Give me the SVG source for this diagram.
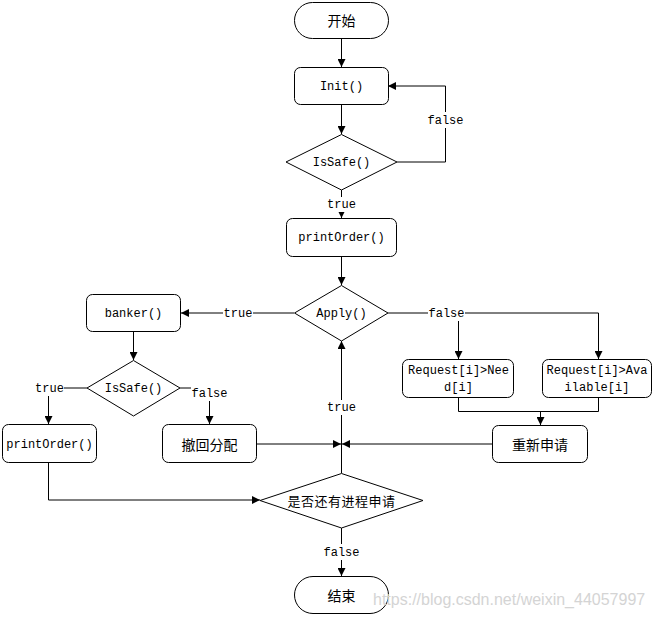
<svg xmlns="http://www.w3.org/2000/svg" width="655" height="617" viewBox="0 0 655 617">
<style>
.box{fill:#fff;stroke:#000;stroke-width:1}
.cn{font-family:"Noto Sans CJK SC","Liberation Sans",sans-serif;font-size:14px;fill:#000;text-anchor:middle;dominant-baseline:central}
.en{font-family:"Liberation Mono",monospace;font-size:12px;fill:#000;text-anchor:middle;dominant-baseline:central}
.conn{fill:none;stroke:#000;stroke-width:1}
.lblbg{fill:#fff;stroke:none}
.wm{font-family:"Liberation Sans",Arial,sans-serif;font-size:16px;fill:#d4d4d4}
</style>
<defs>
<marker id="arr" markerUnits="userSpaceOnUse" markerWidth="9" markerHeight="8" refX="8" refY="4" orient="auto">
<path d="M0,0 L8,4 L0,8 z" fill="#000"/>
</marker>
</defs>
<rect width="655" height="617" fill="#fff"/>
<g id="connectors">
<path class="conn" d="M341.5,38 V67" marker-end="url(#arr)"/>
<path class="conn" d="M341.5,104 V134" marker-end="url(#arr)"/>
<path class="conn" d="M397,162 H445.5 V86 H388" marker-end="url(#arr)"/>
<path class="conn" d="M341.5,190 V218" marker-end="url(#arr)"/>
<path class="conn" d="M341.5,257 V285" marker-end="url(#arr)"/>
<path class="conn" d="M294,313 H181" marker-end="url(#arr)"/>
<path class="conn" d="M133.5,332 V360" marker-end="url(#arr)"/>
<path class="conn" d="M87,388 H48.5 V424" marker-end="url(#arr)"/>
<path class="conn" d="M180,388 H209.5 V424" marker-end="url(#arr)"/>
<path class="conn" d="M256,444 H341" marker-end="url(#arr)"/>
<path class="conn" d="M492,444 H342" marker-end="url(#arr)"/>
<path class="conn" d="M341.5,473 V341" marker-end="url(#arr)"/>
<path class="conn" d="M388,313 H598.5 V359" marker-end="url(#arr)"/>
<path class="conn" d="M458.5,313 V359" marker-end="url(#arr)"/>
<path class="conn" d="M458.5,397 V411.5 H598.5 V397"/>
<path class="conn" d="M540.5,411 V425" marker-end="url(#arr)"/>
<path class="conn" d="M48.5,463 V500 H260" marker-end="url(#arr)"/>
<path class="conn" d="M341.5,528 V576" marker-end="url(#arr)"/>
<rect class="lblbg" x="427" y="112" width="36" height="16"/>
<text class="en" x="445.5" y="120.5">false</text>
<rect class="lblbg" x="327" y="197" width="29" height="15"/>
<text class="en" x="341.5" y="204.5">true</text>
<rect class="lblbg" x="223" y="306" width="30" height="15"/>
<text class="en" x="238" y="313.5">true</text>
<rect class="lblbg" x="35" y="381" width="29" height="15"/>
<text class="en" x="49.5" y="388.5">true</text>
<rect class="lblbg" x="191" y="385" width="37" height="16"/>
<text class="en" x="209.5" y="393.5">false</text>
<rect class="lblbg" x="327" y="400" width="29" height="15"/>
<text class="en" x="341.5" y="408">true</text>
<rect class="lblbg" x="428" y="305" width="37" height="16"/>
<text class="en" x="446.5" y="313.5">false</text>
<rect class="lblbg" x="323" y="544" width="37" height="16"/>
<text class="en" x="341.5" y="552.5">false</text>
</g>
<g id="start">
<rect class="box" x="294.5" y="2.5" width="94" height="36" rx="18"/>
<text class="cn" x="341.5" y="20">开始</text>
</g>
<g id="init">
<rect class="box" x="294.5" y="67.5" width="94" height="37" rx="6"/>
<text class="en" x="341.5" y="86.5">Init()</text>
</g>
<g id="issafe1">
<path class="box" d="M341.5,134.5 L397,162 L341.5,190 L286,162 Z"/>
<text class="en" x="341.5" y="162.5">IsSafe()</text>
</g>
<g id="printorder1">
<rect class="box" x="286.5" y="218.5" width="110" height="38" rx="6"/>
<text class="en" x="341.5" y="238">printOrder()</text>
</g>
<g id="apply">
<path class="box" d="M341.5,285.5 L388,313 L341.5,341 L294.5,313 Z"/>
<text class="en" x="341.5" y="313.5">Apply()</text>
</g>
<g id="banker">
<rect class="box" x="86.5" y="294.5" width="94" height="37" rx="6"/>
<text class="en" x="133.5" y="313.5">banker()</text>
</g>
<g id="issafe2">
<path class="box" d="M133.5,360.5 L180,388 L133.5,416 L87,388 Z"/>
<text class="en" x="133.5" y="388.5">IsSafe()</text>
</g>
<g id="printorder2">
<rect class="box" x="2.5" y="424.5" width="94" height="38" rx="6"/>
<text class="en" x="49.5" y="444.5">printOrder()</text>
</g>
<g id="rollback">
<rect class="box" x="162.5" y="424.5" width="94" height="38" rx="6"/>
<text class="cn" x="209.5" y="444">撤回分配</text>
</g>
<g id="need">
<rect class="box" x="402.5" y="359.5" width="111" height="38" rx="6"/>
<text class="en" x="458.5" y="370.5">Request[i]&gt;Nee</text>
<text class="en" x="458.5" y="388">d[i]</text>
</g>
<g id="available">
<rect class="box" x="542.5" y="359.5" width="109" height="38" rx="6"/>
<text class="en" x="597" y="370.5">Request[i]&gt;Ava</text>
<text class="en" x="597" y="388">ilable[i]</text>
</g>
<g id="reapply">
<rect class="box" x="492.5" y="425.5" width="95" height="37" rx="6"/>
<text class="cn" x="540" y="444">重新申请</text>
</g>
<g id="more">
<path class="box" d="M341.5,473.5 L423,500.5 L341.5,528 L260,500.5 Z"/>
<text class="cn" x="341.5" y="500.5" style="font-size:13px" letter-spacing="0.5">是否还有进程申请</text>
</g>
<g id="end">
<rect class="box" x="294.5" y="576.5" width="94" height="37" rx="18.5"/>
<text class="cn" x="341.5" y="595">结束</text>
</g>
<text class="wm" x="373" y="605">https://blog.csdn.net/weixin_44057997</text>
</svg>
